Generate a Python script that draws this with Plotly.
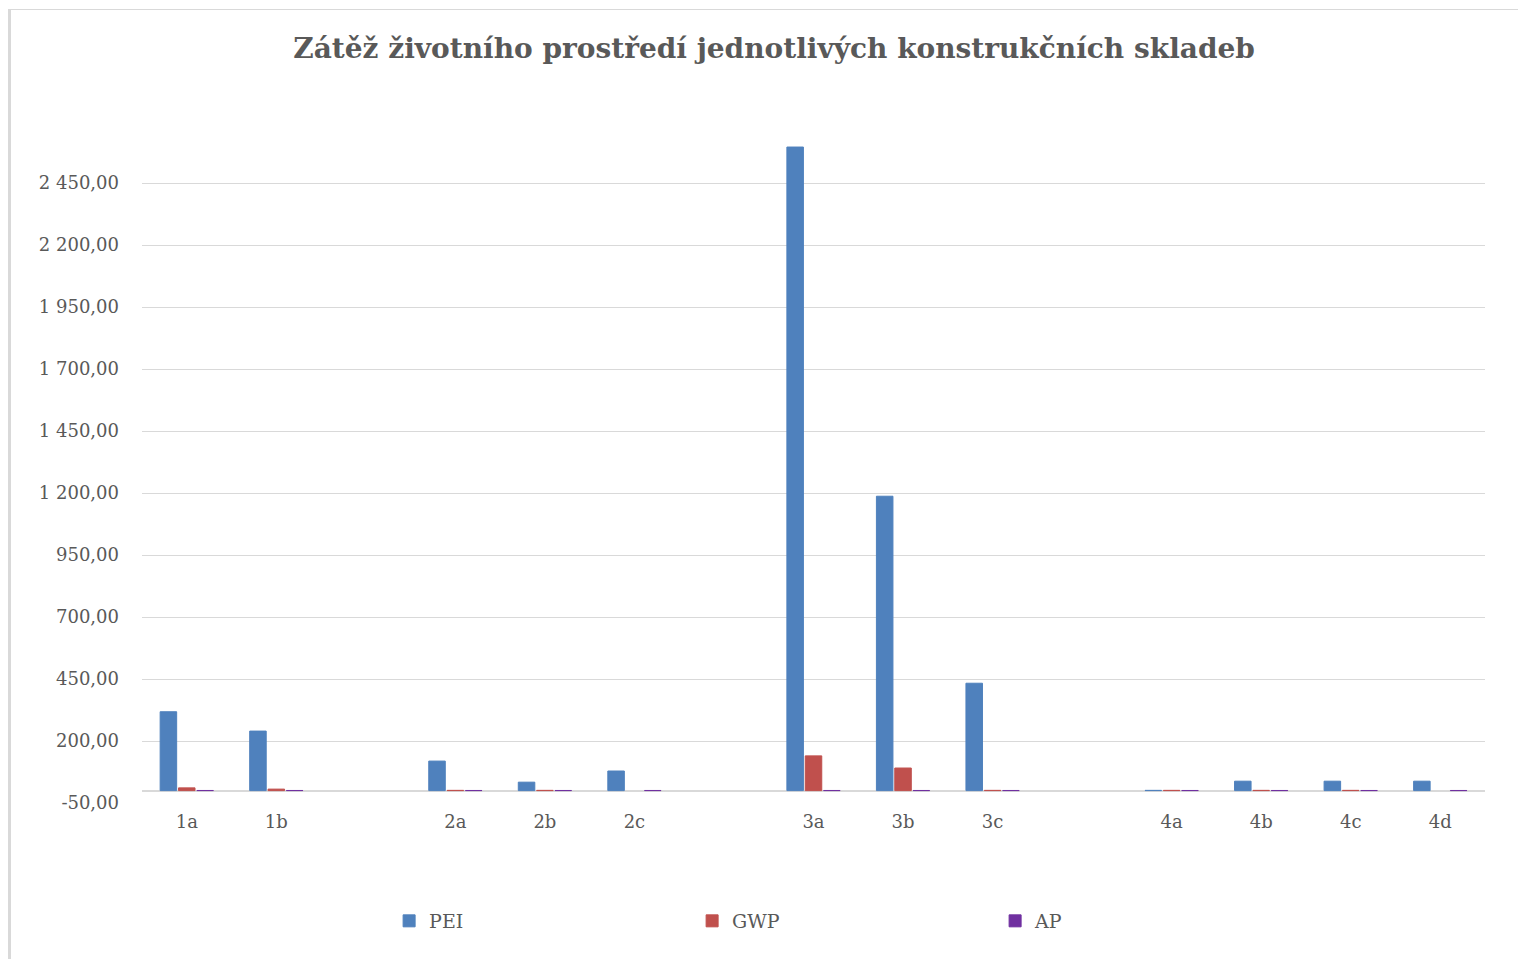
import plotly.graph_objects as go

categories = ["1a", "1b", " ", "2a", "2b", "2c", "  ", "3a", "3b", "3c", "   ", "4a", "4b", "4c", "4d"]
pei = [318, 240, None, 119, 34, 79, None, 2595, 1187, 433, None, 1, 38, 38, 38]
gwp = [11, 6, None, 1, 1, None, None, 140, 91, 1, None, 1, 1, 1, None]
ap = [0.5, 0.5, None, 0.5, 0.5, 0.5, None, 0.5, 0.5, 0.5, None, 0.5, 0.5, 0.5, 0.5]

tick_vals = [-50, 200, 450, 700, 950, 1200, 1450, 1700, 1950, 2200, 2450]
tick_text = ["-50,00", "200,00", "450,00", "700,00", "950,00", "1 200,00", "1 450,00",
             "1 700,00", "1 950,00", "2 200,00", "2 450,00"]

font = "DejaVu Serif, Liberation Serif, serif"
grey = "#595959"

fig = go.Figure()
for name, vals, col in [("PEI", pei, "#4F81BD"), ("GWP", gwp, "#C0504D"), ("AP", ap, "#7030A0")]:
    fig.add_trace(go.Bar(x=categories, y=vals, name=name,
                         marker=dict(color=col, line=dict(color=col, width=1))))

fig.update_layout(
    width=1519, height=959,
    paper_bgcolor="white", plot_bgcolor="white",
    margin=dict(l=142, r=34, t=121, b=156),
    barmode="group", bargap=0.385, bargroupgap=0.1,
    title=dict(text="<b>Zátěž životního prostředí jednotlivých konstrukčních skladeb</b>",
               x=0.5096, xanchor="center", y=0.95, yanchor="middle",
               font=dict(family=font, size=28, color=grey)),
    font=dict(family=font, color=grey, size=18),
    legend=dict(orientation="h", x=0.184, xanchor="left", y=-0.173, yanchor="middle",
                entrywidth=258, font=dict(size=19, color=grey), traceorder="normal"),
    showlegend=True,
)
fig.update_xaxes(type="category", showgrid=False, ticks="", showline=False,
                 ticklabelstandoff=6, tickfont=dict(size=18, color=grey))
fig.update_yaxes(range=[-50, 2700], tickvals=tick_vals, ticktext=tick_text,
                 showgrid=True, gridcolor="#D9D9D9", gridwidth=1,
                 zeroline=True, zerolinecolor="#D9D9D9", zerolinewidth=2,
                 showline=False, ticks="", ticklabelstandoff=22,
                 tickfont=dict(size=18, color=grey))

# chart area border (left and top edges)
fig.add_shape(type="line", xref="paper", yref="paper",
              x0=-132.5 / 1343, x1=-132.5 / 1343, y0=-160 / 682, y1=1 + 111 / 682,
              line=dict(color="#D9D9D9", width=3))
fig.add_shape(type="line", xref="paper", yref="paper",
              x0=-134 / 1343, x1=1 + 33 / 1343, y0=1 + 111.5 / 682, y1=1 + 111.5 / 682,
              line=dict(color="#D9D9D9", width=1))

fig.write_html("out.html", config={"displayModeBar": False},
               post_script="document.body.style.margin='0';")
